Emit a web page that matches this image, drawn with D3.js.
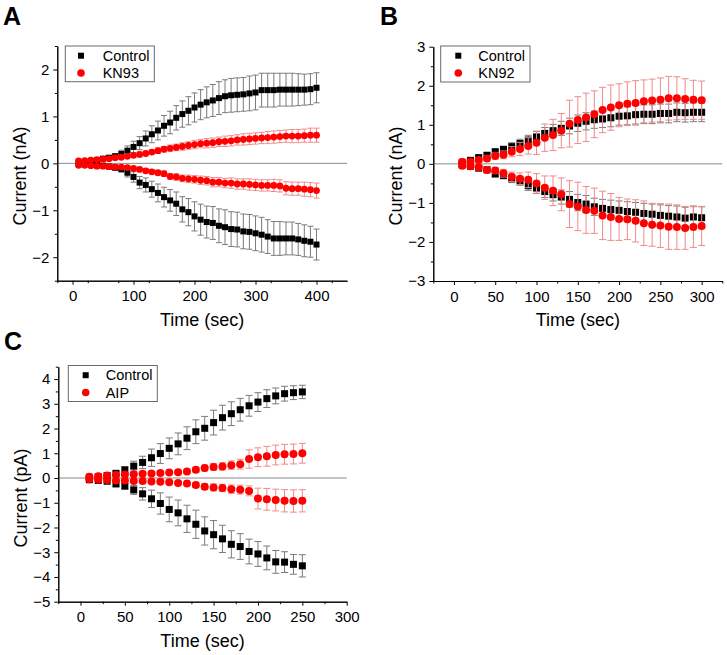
<!DOCTYPE html>
<html>
<head>
<meta charset="utf-8">
<script src="https://cdn.jsdelivr.net/npm/d3@7"></script>
<style>
  body { margin: 0; background: #fff; }
  svg { display: block; font-family: "Liberation Sans", Arial, sans-serif; }
</style>
</head>
<body>
<svg id="fig" width="727" height="655"></svg>
<script>
// ---- Panel A: Control vs KN93 (nA) ----
const timeA = [10,20,30,40,50,60,70,80,90,100,110,120,130,140,150,160,170,180,190,200,
  210,220,230,240,250,260,270,280,290,300,310,320,330,340,350,360,370,380,390,400];
const ctrlUpA = [0.02,0.03,0.04,0.07,0.1,0.12,0.15,0.2,0.27,0.35,0.43,0.53,0.62,0.7,0.8,0.87,0.97,1.05,1.12,1.19,
  1.25,1.3,1.34,1.39,1.43,1.45,1.46,1.47,1.49,1.51,1.56,1.56,1.56,1.57,1.57,1.57,1.57,1.57,1.58,1.61];
const ctrlUpErrA = [0.02,0.02,0.03,0.03,0.04,0.05,0.06,0.08,0.1,0.12,0.14,0.16,0.18,0.2,0.22,0.24,0.26,0.28,0.3,0.31,
  0.32,0.33,0.34,0.35,0.35,0.36,0.36,0.36,0.37,0.37,0.36,0.36,0.36,0.35,0.35,0.35,0.34,0.33,0.33,0.32];
const ctrlDnA = [-0.02,-0.02,-0.03,-0.04,-0.05,-0.07,-0.09,-0.12,-0.2,-0.29,-0.41,-0.46,-0.55,-0.63,-0.72,-0.79,-0.86,-0.98,-1.04,-1.13,
  -1.2,-1.25,-1.27,-1.33,-1.36,-1.4,-1.41,-1.45,-1.46,-1.49,-1.52,-1.56,-1.6,-1.6,-1.6,-1.6,-1.62,-1.65,-1.67,-1.73];
const ctrlDnErrA = [0.02,0.02,0.03,0.03,0.04,0.05,0.06,0.07,0.09,0.11,0.13,0.15,0.17,0.19,0.21,0.23,0.25,0.27,0.29,0.31,
  0.33,0.34,0.35,0.36,0.37,0.37,0.37,0.37,0.37,0.37,0.37,0.36,0.36,0.36,0.35,0.35,0.34,0.34,0.33,0.33];
const kn93UpA = [0.05,0.06,0.07,0.08,0.09,0.1,0.12,0.13,0.15,0.17,0.19,0.21,0.24,0.27,0.3,0.32,0.34,0.36,0.38,0.4,
  0.42,0.43,0.44,0.46,0.47,0.48,0.5,0.51,0.52,0.53,0.54,0.55,0.56,0.57,0.58,0.58,0.58,0.59,0.6,0.6];
const kn93UpErrA = [0.02,0.02,0.02,0.02,0.03,0.03,0.03,0.04,0.04,0.04,0.05,0.05,0.05,0.06,0.06,0.07,0.07,0.08,0.08,0.09,
  0.09,0.1,0.1,0.1,0.11,0.11,0.11,0.12,0.12,0.12,0.12,0.13,0.13,0.13,0.13,0.14,0.14,0.14,0.15,0.15];
const kn93DnA = [-0.04,-0.04,-0.05,-0.06,-0.06,-0.07,-0.08,-0.08,-0.09,-0.11,-0.13,-0.16,-0.18,-0.2,-0.22,-0.28,-0.29,-0.32,-0.33,-0.34,
  -0.36,-0.37,-0.4,-0.4,-0.42,-0.42,-0.44,-0.44,-0.45,-0.46,-0.47,-0.47,-0.47,-0.48,-0.53,-0.54,-0.54,-0.55,-0.56,-0.58];
const kn93DnErrA = [0.02,0.02,0.02,0.02,0.03,0.03,0.03,0.03,0.04,0.04,0.04,0.05,0.05,0.05,0.06,0.06,0.07,0.07,0.08,0.08,
  0.09,0.09,0.1,0.1,0.1,0.11,0.11,0.11,0.12,0.12,0.12,0.12,0.13,0.13,0.14,0.14,0.14,0.15,0.15,0.16];

// ---- Panel B: Control vs KN92 (nA) ----
const timeB = [10,20,30,40,50,60,70,80,90,100,110,120,130,140,150,160,170,180,190,200,
  210,220,230,240,250,260,270,280,290,300];
const ctrlUpB = [0.04,0.09,0.16,0.22,0.31,0.37,0.44,0.52,0.61,0.69,0.78,0.85,0.91,0.97,1.04,1.09,1.13,1.15,1.18,1.22,
  1.23,1.26,1.27,1.27,1.29,1.29,1.32,1.31,1.32,1.32];
const ctrlUpErrB = [0.03,0.04,0.05,0.06,0.07,0.08,0.1,0.11,0.12,0.14,0.15,0.16,0.18,0.2,0.21,0.22,0.22,0.22,0.23,0.23,
  0.23,0.24,0.24,0.24,0.24,0.24,0.24,0.24,0.24,0.24];
const ctrlDnB = [-0.03,-0.06,-0.11,-0.15,-0.26,-0.3,-0.38,-0.44,-0.56,-0.62,-0.71,-0.79,-0.85,-0.91,-0.99,-1.03,-1.1,-1.14,-1.17,-1.19,
  -1.22,-1.24,-1.27,-1.29,-1.32,-1.34,-1.36,-1.39,-1.36,-1.38];
const ctrlDnErrB = [0.03,0.04,0.05,0.06,0.07,0.08,0.1,0.11,0.12,0.14,0.15,0.16,0.18,0.2,0.21,0.22,0.22,0.23,0.24,0.24,
  0.25,0.25,0.26,0.26,0.27,0.27,0.28,0.28,0.28,0.28];
const kn92UpB = [0.05,0.06,0.1,0.14,0.2,0.23,0.31,0.38,0.46,0.54,0.67,0.74,0.85,1.03,1.12,1.19,1.27,1.38,1.44,1.5,
  1.54,1.56,1.6,1.62,1.64,1.68,1.68,1.66,1.64,1.63];
const kn92UpErrB = [0.04,0.05,0.06,0.07,0.08,0.1,0.13,0.17,0.21,0.3,0.35,0.4,0.44,0.6,0.6,0.62,0.6,0.58,0.58,0.55,
  0.56,0.57,0.55,0.55,0.56,0.56,0.55,0.52,0.5,0.49];
const kn92DnB = [-0.05,-0.06,-0.09,-0.16,-0.17,-0.24,-0.33,-0.38,-0.41,-0.5,-0.61,-0.69,-0.78,-1.03,-1.09,-1.18,-1.2,-1.32,-1.36,-1.41,
  -1.42,-1.46,-1.52,-1.56,-1.58,-1.61,-1.62,-1.64,-1.62,-1.59];
const kn92DnErrB = [0.04,0.05,0.06,0.07,0.08,0.1,0.12,0.15,0.2,0.25,0.3,0.38,0.42,0.6,0.62,0.6,0.58,0.62,0.6,0.55,
  0.52,0.54,0.57,0.55,0.56,0.58,0.57,0.55,0.52,0.5];

// ---- Panel C: Control vs AIP (pA) ----
const timeC = [10,20,30,40,50,60,70,80,90,100,110,120,130,140,150,160,170,180,190,200,210,220,230,240,250];
const ctrlUpC = [0.03,0.05,0.1,0.19,0.33,0.48,0.63,0.82,0.99,1.2,1.38,1.61,1.87,2.01,2.24,2.44,2.6,2.76,2.92,3.07,3.21,3.32,3.41,3.45,3.48];
const ctrlUpErrC = [0.05,0.05,0.06,0.08,0.12,0.2,0.25,0.35,0.4,0.42,0.44,0.46,0.48,0.48,0.5,0.5,0.48,0.46,0.42,0.38,0.36,0.32,0.3,0.28,0.27];
const ctrlDnC = [-0.07,-0.1,-0.13,-0.24,-0.33,-0.48,-0.64,-0.84,-1.03,-1.27,-1.41,-1.65,-1.87,-2.14,-2.29,-2.46,-2.68,-2.77,-2.97,-3.07,-3.23,-3.39,-3.4,-3.49,-3.55];
const ctrlDnErrC = [0.05,0.05,0.06,0.08,0.1,0.18,0.25,0.35,0.43,0.5,0.52,0.55,0.57,0.57,0.57,0.55,0.55,0.52,0.5,0.5,0.48,0.46,0.42,0.4,0.45];
const aipUpC = [0.05,0.07,0.1,0.12,0.14,0.15,0.17,0.18,0.2,0.22,0.23,0.26,0.33,0.4,0.45,0.47,0.52,0.56,0.77,0.84,0.88,0.93,0.96,0.97,1.0];
const aipUpErrC = [0.04,0.04,0.05,0.05,0.05,0.06,0.06,0.06,0.07,0.07,0.08,0.08,0.1,0.12,0.14,0.15,0.17,0.2,0.37,0.38,0.4,0.4,0.4,0.4,0.4];
const aipDnC = [-0.05,-0.07,-0.08,-0.1,-0.1,-0.12,-0.12,-0.14,-0.15,-0.17,-0.2,-0.22,-0.28,-0.35,-0.38,-0.4,-0.45,-0.47,-0.52,-0.83,-0.86,-0.89,-0.92,-0.93,-0.92];
const aipDnErrC = [0.04,0.04,0.05,0.05,0.05,0.05,0.06,0.06,0.06,0.07,0.07,0.08,0.1,0.12,0.14,0.15,0.17,0.18,0.2,0.42,0.44,0.44,0.45,0.45,0.45];

// tick labels
const xTicksA = [0, 100, 200, 300, 400];
const xTicksB = [0, 50, 100, 150, 200, 250, 300];
const xTicksC = [0, 50, 100, 150, 200, 250, 300];
const yTicksA = [-2, -1, 0, 1, 2];
const yTicksB = [-3, -2, -1, 0, 1, 2, 3];
const yTicksC = [-5, -4, -3, -2, -1, 0, 1, 2, 3, 4];

const BLACK = '#000', RED = '#ff0000', BLACK_ERR = '#7a7a7a', RED_ERR = '#f08a8a';

const svg = d3.select('#fig');

function ser(t, v, e) { return t.map((tt, i) => ({ t: tt, v: v[i], e: e[i] })); }

const panels = [
  {
    letter: 'A', lx: 3, ly: 25,
    left: 57.3, right: 347, top: 46, bottom: 280.7,
    xDomain: [-25, 450], yDomain: [-2.5, 2.5],
    xTicks: xTicksA, xMinorStep: 50, yTicks: yTicksA, yMinorStep: 0.5,
    yTitle: 'Current (nA)', yTitleX: 26, yTitleY: 176,
    msize: 6, mr: 3.4, cap: 3,
    legend: { x: 65.3, y: 46, w: 89, h: 35.7, mx: 81, tx: 102.7, names: ['Control', 'KN93'] },
    series: [
      { d: ser(timeA, ctrlUpA, ctrlUpErrA), shape: 'sq' },
      { d: ser(timeA, ctrlDnA, ctrlDnErrA), shape: 'sq' },
      { d: ser(timeA, kn93UpA, kn93UpErrA), shape: 'ci' },
      { d: ser(timeA, kn93DnA, kn93DnErrA), shape: 'ci' }
    ]
  },
  {
    letter: 'B', lx: 380, ly: 25,
    left: 433.3, right: 722.3, top: 46.7, bottom: 281,
    xDomain: [-25, 325], yDomain: [-3, 3],
    xTicks: xTicksB, xMinorStep: 25, yTicks: yTicksB, yMinorStep: 0.5,
    yTitle: 'Current (nA)', yTitleX: 402, yTitleY: 176,
    msize: 7, mr: 4, cap: 3.5,
    legend: { x: 440.7, y: 46, w: 89.3, h: 36, mx: 458.3, tx: 478.3, names: ['Control', 'KN92'] },
    series: [
      { d: ser(timeB, ctrlUpB, ctrlUpErrB), shape: 'sq' },
      { d: ser(timeB, ctrlDnB, ctrlDnErrB), shape: 'sq' },
      { d: ser(timeB, kn92UpB, kn92UpErrB), shape: 'ci' },
      { d: ser(timeB, kn92DnB, kn92DnErrB), shape: 'ci' }
    ]
  },
  {
    letter: 'C', lx: 4, ly: 350,
    left: 58.3, right: 346.7, top: 366.7, bottom: 601.7,
    xDomain: [-25, 300], yDomain: [-5, 4.5],
    xTicks: xTicksC, xMinorStep: 25, yTicks: yTicksC, yMinorStep: 0.5,
    yTitle: 'Current (pA)', yTitleX: 27, yTitleY: 498,
    msize: 7, mr: 4, cap: 3.5,
    legend: { x: 68.3, y: 365.5, w: 89, h: 36, mx: 85.7, tx: 105.7, names: ['Control', 'AIP'] },
    series: [
      { d: ser(timeC, ctrlUpC, ctrlUpErrC), shape: 'sq' },
      { d: ser(timeC, ctrlDnC, ctrlDnErrC), shape: 'sq' },
      { d: ser(timeC, aipUpC, aipUpErrC), shape: 'ci' },
      { d: ser(timeC, aipDnC, aipDnErrC), shape: 'ci' }
    ]
  }
];

function styleAxis(g) {
  g.attr('font-family', '"Liberation Sans", Arial, sans-serif').attr('font-size', 15);
  g.selectAll('text').attr('fill', '#000');
  g.selectAll('line, path').attr('stroke', '#000');
}

function drawPanel(p) {
  const x = d3.scaleLinear().domain(p.xDomain).range([p.left, p.right]);
  const y = d3.scaleLinear().domain(p.yDomain).range([p.bottom, p.top]);
  const g = svg.append('g');

  // zero line
  g.append('line')
    .attr('x1', p.left).attr('x2', p.right)
    .attr('y1', y(0)).attr('y2', y(0))
    .attr('stroke', '#8a8a8a').attr('stroke-width', 1);

  // minor ticks
  const xMinor = d3.range(p.xDomain[0], p.xDomain[1] + 1e-9, p.xMinorStep).filter(v => !p.xTicks.includes(v));
  const yMinor = d3.range(p.yDomain[0], p.yDomain[1] + 1e-9, p.yMinorStep).filter(v => !p.yTicks.includes(v));
  g.append('g').attr('transform', `translate(0,${p.bottom})`)
    .call(d3.axisBottom(x).tickValues(xMinor).tickSize(2.5).tickSizeOuter(0).tickFormat(''))
    .call(styleAxis);
  g.append('g').attr('transform', `translate(${p.left},0)`)
    .call(d3.axisLeft(y).tickValues(yMinor).tickSize(2.5).tickSizeOuter(0).tickFormat(''))
    .call(styleAxis);

  // major ticks
  g.append('g').attr('transform', `translate(0,${p.bottom})`)
    .call(d3.axisBottom(x).tickValues(p.xTicks).tickSize(4).tickSizeOuter(0).tickPadding(6).tickFormat(d3.format('d')))
    .call(styleAxis);
  g.append('g').attr('transform', `translate(${p.left},0)`)
    .call(d3.axisLeft(y).tickValues(p.yTicks).tickSize(4).tickSizeOuter(0).tickPadding(4).tickFormat(d3.format('d')))
    .call(styleAxis);

  // axis titles
  g.append('text')
    .attr('x', (p.left + p.right) / 2).attr('y', p.bottom + 45)
    .attr('text-anchor', 'middle').attr('font-size', 18)
    .text('Time (sec)');
  g.append('text')
    .attr('transform', `translate(${p.yTitleX},${p.yTitleY}) rotate(-90)`)
    .attr('text-anchor', 'middle').attr('font-size', 18)
    .text(p.yTitle);

  // panel letter
  svg.append('text').attr('x', p.lx).attr('y', p.ly)
    .attr('font-size', 25).attr('font-weight', 'bold').text(p.letter);

  // series: error bars then markers
  p.series.forEach(s => {
    const isRed = s.shape === 'ci';
    const ecol = isRed ? RED_ERR : BLACK_ERR;
    const eb = g.append('g').attr('stroke', ecol).attr('stroke-width', 1);
    const pts = eb.selectAll('g').data(s.d).enter().append('g');
    pts.append('line')
      .attr('x1', d => x(d.t)).attr('x2', d => x(d.t))
      .attr('y1', d => y(d.v - d.e)).attr('y2', d => y(d.v + d.e));
    pts.append('line')
      .attr('x1', d => x(d.t) - p.cap).attr('x2', d => x(d.t) + p.cap)
      .attr('y1', d => y(d.v + d.e)).attr('y2', d => y(d.v + d.e));
    pts.append('line')
      .attr('x1', d => x(d.t) - p.cap).attr('x2', d => x(d.t) + p.cap)
      .attr('y1', d => y(d.v - d.e)).attr('y2', d => y(d.v - d.e));

    if (isRed) {
      g.append('g').selectAll('circle').data(s.d).enter().append('circle')
        .attr('cx', d => x(d.t)).attr('cy', d => y(d.v)).attr('r', p.mr)
        .attr('fill', RED);
    } else {
      g.append('g').selectAll('rect').data(s.d).enter().append('rect')
        .attr('x', d => x(d.t) - p.msize / 2).attr('y', d => y(d.v) - p.msize / 2)
        .attr('width', p.msize).attr('height', p.msize)
        .attr('fill', BLACK);
    }
  });

  // legend
  const L = p.legend;
  const lg = svg.append('g');
  lg.append('rect').attr('x', L.x).attr('y', L.y).attr('width', L.w).attr('height', L.h)
    .attr('fill', '#fff').attr('stroke', '#6a6a6a').attr('stroke-width', 1);
  const rowY = [L.y + 9.7, L.y + 27];
  lg.append('rect').attr('x', L.mx - 3).attr('y', rowY[0] - 3).attr('width', 6).attr('height', 6).attr('fill', BLACK);
  lg.append('circle').attr('cx', L.mx).attr('cy', rowY[1]).attr('r', 3.8).attr('fill', RED);
  L.names.forEach((n, i) => {
    lg.append('text').attr('x', L.tx).attr('y', rowY[i] + 5.2)
      .attr('font-size', 14.5).text(n);
  });
}

panels.forEach(drawPanel);
</script>
</body>
</html>
